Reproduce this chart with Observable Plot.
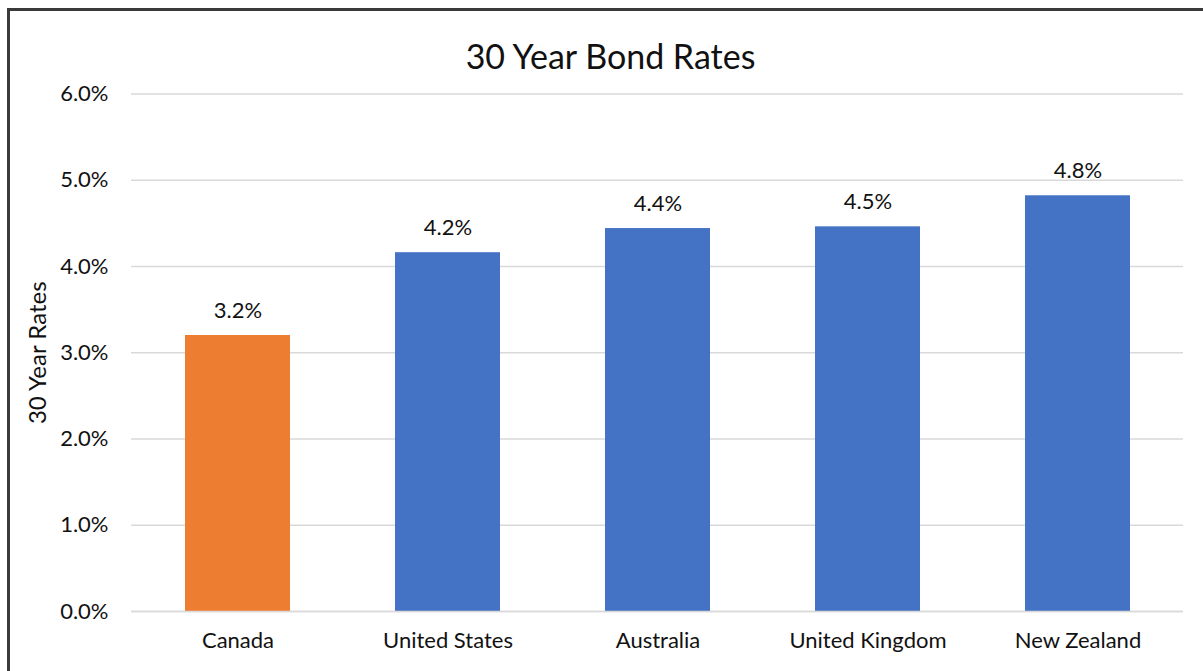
<!DOCTYPE html>
<html>
<head>
<meta charset="utf-8">
<script src="https://cdn.jsdelivr.net/npm/d3@7"></script>
<script src="https://cdn.jsdelivr.net/npm/@observablehq/plot@0.6"></script>
<style>
  html, body { margin: 0; padding: 0; background: #fff; overflow: hidden; }
  body { width: 1203px; height: 671px; position: relative; font-family: Lato, "Open Sans", sans-serif; }
  #frame { position: absolute; left: 7px; top: 8px; width: 2000px; height: 2000px; border: 3px solid #3a3a3a; box-sizing: border-box; pointer-events: none; }
  #title { height: 78px; box-sizing: border-box; padding-top: 36px; text-align: center; font-size: 34px; line-height: 40px; color: #111; padding-left: 18px; }
  #chart { display: block; }
</style>
</head>
<body>
<div id="frame"></div>
<div id="title">30 Year Bond Rates</div>
<div id="chart"></div>
<script>
const countries = ["Canada", "United States", "Australia", "United Kingdom", "New Zealand"];
const rates = [3.20, 4.16, 4.44, 4.46, 4.82];
const labels = ["3.2%", "4.2%", "4.4%", "4.5%", "4.8%"];
const barColors = ["#ED7D31", "#4472C4", "#4472C4", "#4472C4", "#4472C4"];
const yTicks = [0, 1, 2, 3, 4, 5, 6];

const data = countries.map((c, i) => ({country: c, rate: rates[i], label: labels[i], color: barColors[i]}));

const plot = Plot.plot({
  width: 1203,
  height: 593,
  marginTop: 15.5,
  marginBottom: 60,
  marginLeft: 131,
  marginRight: 20,
  style: {fontFamily: "Lato, 'Open Sans', sans-serif", fontSize: "22px", color: "#111", background: "transparent"},
  x: {domain: countries, paddingInner: 0.5, paddingOuter: 0.25, label: null},
  y: {domain: [0, 6], label: null},
  marks: [
    Plot.gridY(yTicks, {stroke: "#d9d9d9", strokeOpacity: 1, strokeWidth: 1.5}),
    Plot.barY(data, {x: "country", y: "rate", fill: "color"}),
    Plot.ruleY([0], {stroke: "#d9d9d9", strokeWidth: 1.5}),
    Plot.text(data, {x: "country", y: "rate", text: "label", dy: -25, fontSize: 22, fill: "#111"}),
    Plot.axisX({tickSize: 0, tickPadding: 21, fontSize: 22, label: null}),
    Plot.axisY({ticks: yTicks, tickSize: 0, tickPadding: 23, tickFormat: d => d.toFixed(1) + "%", fontSize: 22, label: null}),
    Plot.text(["30 Year Rates"], {frameAnchor: "left", textAnchor: "middle", dx: -93, rotate: -90, fontSize: 24, fill: "#111"})
  ]
});
document.getElementById("chart").appendChild(plot);
</script>
</body>
</html>
